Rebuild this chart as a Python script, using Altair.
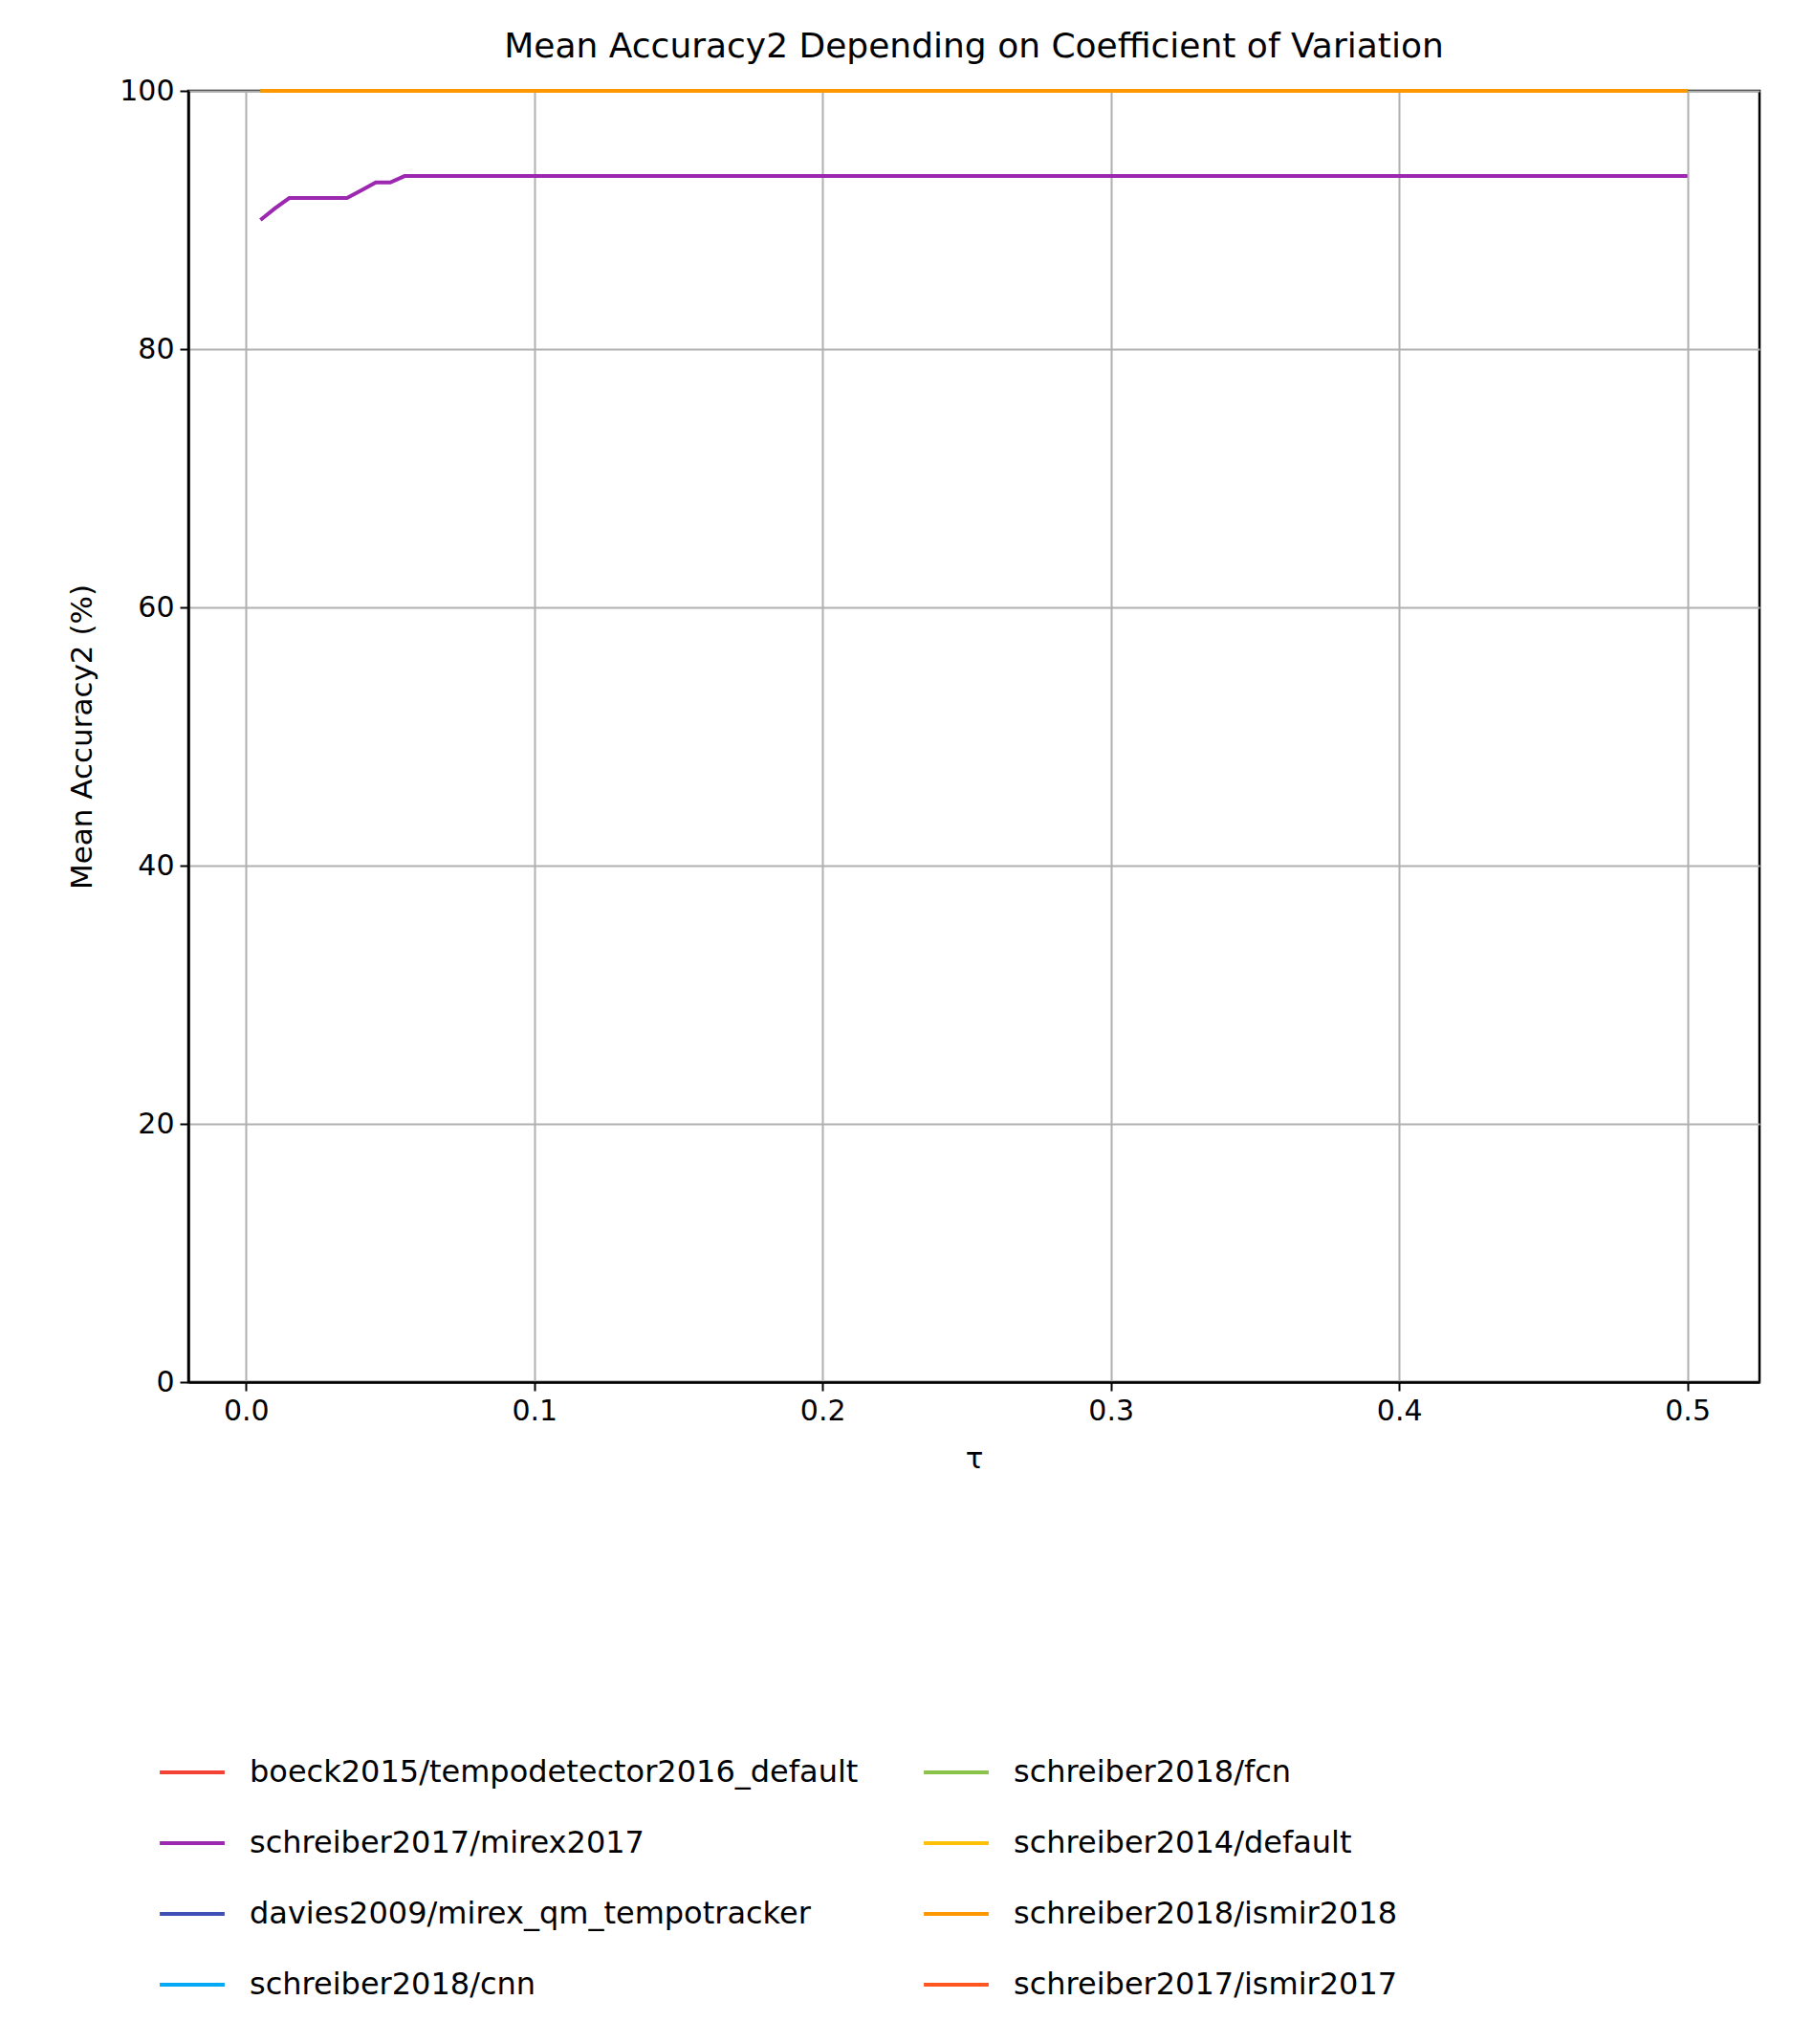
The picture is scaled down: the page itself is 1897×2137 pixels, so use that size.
import altair as alt
import pandas as pd

# tau values 0.005 .. 0.5
tau = [round(0.005 * i, 3) for i in range(1, 101)]

names = [
    "boeck2015/tempodetector2016_default",
    "davies2009/mirex_qm_tempotracker",
    "percival2014/stem",
    "schreiber2014/default",
    "schreiber2017/ismir2017",
    "schreiber2017/mirex2017",
    "schreiber2018/cnn",
    "schreiber2018/fcn",
    "schreiber2018/ismir2018",
]
colors = ["#f44336", "#3f51b5", "#009688", "#ffc107", "#ff5722",
          "#9c27b0", "#03a9f4", "#8bc34a", "#ff9800"]

mirex_start = [90.0, 90.9, 91.7, 91.7, 91.7, 91.7, 91.7, 92.3, 92.9, 92.9]
mirex2017 = mirex_start + [93.4] * (len(tau) - len(mirex_start))
flat100 = [100.0] * len(tau)

rows = []
for n in names:
    vals = mirex2017 if n == "schreiber2017/mirex2017" else flat100
    for t, v in zip(tau, vals):
        rows.append({"tau": t, "acc": v, "method": n})
df = pd.DataFrame(rows)

# interleave so the 2-column legend reads column by column
legend_order = []
for a, b in zip(names[:5], names[5:] + [None]):
    legend_order.append(a)
    if b:
        legend_order.append(b)
color_map = dict(zip(names, colors))

font = "DejaVu Sans"

chart = alt.Chart(df).mark_line(strokeWidth=4).encode(
    x=alt.X("tau:Q", title="τ",
            scale=alt.Scale(domain=[-0.02, 0.525], nice=False, zero=False),
            axis=alt.Axis(values=[0, 0.1, 0.2, 0.3, 0.4, 0.5], format=".1f",
                          titlePadding=20)),
    y=alt.Y("acc:Q", title="Mean Accuracy2 (%)",
            scale=alt.Scale(domain=[0, 100], nice=False),
            axis=alt.Axis(values=[0, 20, 40, 60, 80, 100], titlePadding=22)),
    color=alt.Color("method:N",
                    scale=alt.Scale(domain=legend_order,
                                    range=[color_map[n] for n in legend_order]),
                    legend=alt.Legend(title=None, orient="none", legendX=-32,
                                      legendY=1722, columns=2, symbolType="stroke",
                                      symbolSize=4600, symbolStrokeWidth=4,
                                      labelFontSize=32, labelFont=font,
                                      labelLimit=1000, rowPadding=22,
                                      columnPadding=60, labelOffset=24)),
    detail="method:N",
).properties(
    width=1643,
    height=1350,
    title=alt.TitleParams("Mean Accuracy2 Depending on Coefficient of Variation",
                          fontSize=36, font=font, fontWeight="normal", offset=12),
    padding={"left": 189, "top": 87, "right": 41, "bottom": 680},
    autosize="none",
).configure_view(
    stroke="black", strokeWidth=2.5
).configure_axis(
    labelFont=font, titleFont=font, labelFontSize=30, titleFontSize=31,
    titleFontWeight="normal", gridColor="#b0b0b0", gridWidth=2,
    domainColor="black", domainWidth=2.5, tickColor="black", tickWidth=2,
    tickSize=9, labelColor="black", titleColor="black", labelPadding=6,
)

chart.save("out.html", embed_options={"renderer": "svg", "actions": False})
